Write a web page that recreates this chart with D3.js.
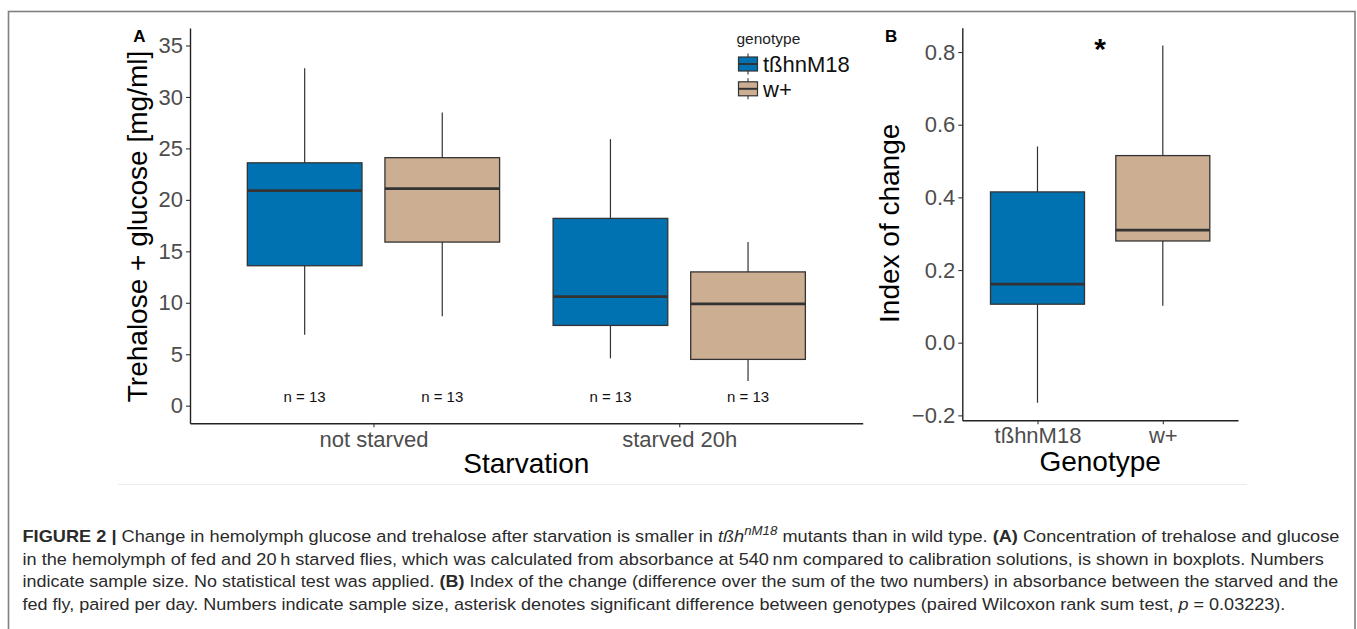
<!DOCTYPE html>
<html><head><meta charset="utf-8">
<script src="https://cdn.jsdelivr.net/npm/d3@7"></script>
<style>
html,body{margin:0;padding:0;background:#fff;}
svg{display:block;font-family:"Liberation Sans",Arial,Helvetica,sans-serif;}
</style></head><body>
<svg id="chart" width="1357" height="629"></svg>
<script>
// ---------- data ----------
const starvation = ["not starved", "starved 20h"];
const genotypes = ["tßhnM18", "w+"];
// five-number summaries: [lower whisker, Q1, median, Q3, upper whisker]
const concTbh   = [[6.9, 13.6, 20.9, 23.6, 32.8], [4.6, 7.8, 10.6, 18.2, 25.9]];
const concWplus = [[8.7, 15.9, 21.1, 24.1, 28.5], [2.4, 4.5, 9.9, 13.0, 15.9]];
const nTbh   = [13, 13];
const nWplus = [13, 13];
const indexTbh   = [-0.165, 0.106, 0.161, 0.415, 0.540];
const indexWplus = [0.102, 0.280, 0.310, 0.515, 0.818];
const ticksA = [0, 5, 10, 15, 20, 25, 30, 35];
const ticksB = [-0.2, 0.0, 0.2, 0.4, 0.6, 0.8];
const colors = ["#0072B2", "#CCAE93"];

// ---------- setup ----------
const svg = d3.select("#chart");
const tickColor = "#4D4D4D";
const lineColor = "#333333";

// outer frame
svg.append("rect").attr("x", 8.5).attr("y", 11.5).attr("width", 1346.5).attr("height", 700)
  .attr("fill", "none").attr("stroke", "#808080").attr("stroke-width", 1.6);

function styleAxis(g) {
  g.selectAll(".domain").attr("stroke", "#222").attr("stroke-width", 1.4);
  g.selectAll(".tick line").attr("stroke", lineColor).attr("stroke-width", 1.1);
  g.selectAll(".tick text").attr("fill", tickColor).attr("font-size", 22)
    .attr("font-family", "Liberation Sans, Arial, sans-serif");
}

function drawBox(g, cx, w, s, y, fill) {
  g.append("line").attr("x1", cx).attr("x2", cx).attr("y1", y(s[0])).attr("y2", y(s[4]))
    .attr("stroke", lineColor).attr("stroke-width", 1.2);
  g.append("rect").attr("x", cx - w / 2).attr("width", w)
    .attr("y", y(s[3])).attr("height", y(s[1]) - y(s[3]))
    .attr("fill", fill).attr("stroke", lineColor).attr("stroke-width", 1.3);
  g.append("line").attr("x1", cx - w / 2).attr("x2", cx + w / 2).attr("y1", y(s[2])).attr("y2", y(s[2]))
    .attr("stroke", lineColor).attr("stroke-width", 2.8);
}

// ---------- panel A ----------
const xA = d3.scalePoint().domain(starvation).range([190, 862.7]).padding(0.6);
const yA = d3.scaleLinear().domain([-1.71, 36.7]).range([423.3, 28]);
const stepA = xA.step();
const gA = svg.append("g");

[concTbh, concWplus].forEach((series, gi) => {
  series.forEach((s, ci) => {
    const cx = xA(starvation[ci]) + (gi === 0 ? -1 : 1) * 0.225 * stepA;
    drawBox(gA, cx, 0.375 * stepA, s, yA, colors[gi]);
  });
});
[nTbh, nWplus].forEach((ns, gi) => {
  ns.forEach((n, ci) => {
    const cx = xA(starvation[ci]) + (gi === 0 ? -1 : 1) * 0.225 * stepA;
    gA.append("text").attr("x", cx).attr("y", yA(0.4)).attr("text-anchor", "middle")
      .attr("font-size", 15).attr("fill", "#111").text("n = " + n);
  });
});

const axYA = svg.append("g").attr("transform", "translate(190,0)")
  .call(d3.axisLeft(yA).tickValues(ticksA).tickSize(4).tickSizeOuter(0).tickPadding(3).tickFormat(d3.format("d")));
styleAxis(axYA);
const axXA = svg.append("g").attr("transform", "translate(0,423.3)")
  .call(d3.axisBottom(xA).tickSize(4).tickSizeOuter(0).tickPadding(4));
styleAxis(axXA);

svg.append("text").attr("transform", "translate(147,226.5) rotate(-90)").attr("text-anchor", "middle")
  .attr("font-size", 28).attr("fill", "#000").text("Trehalose + glucose [mg/ml]");
svg.append("text").attr("x", (190 + 862.7) / 2).attr("y", 473.3).attr("text-anchor", "middle")
  .attr("font-size", 28).attr("fill", "#000").text("Starvation");
svg.append("text").attr("x", 133.3).attr("y", 41.7).attr("font-size", 17).attr("font-weight", "bold")
  .attr("fill", "#000").text("A");

// legend
const leg = svg.append("g");
leg.append("text").attr("x", 736.5).attr("y", 43.5).attr("font-size", 15.5).attr("fill", "#222").text("genotype");
genotypes.forEach((gname, i) => {
  const cy = 64 + i * 24.8;
  leg.append("line").attr("x1", 748).attr("x2", 748).attr("y1", cy - 10.5).attr("y2", cy + 10.5)
    .attr("stroke", lineColor).attr("stroke-width", 1.1);
  leg.append("rect").attr("x", 738.5).attr("y", cy - 7).attr("width", 19).attr("height", 14)
    .attr("fill", colors[i]).attr("stroke", lineColor).attr("stroke-width", 1.2);
  leg.append("line").attr("x1", 738.5).attr("x2", 757.5).attr("y1", cy).attr("y2", cy)
    .attr("stroke", lineColor).attr("stroke-width", 2);
  leg.append("text").attr("x", 763).attr("y", cy + 7.8).attr("font-size", 22).attr("fill", "#111").text(gname);
});

// ---------- panel B ----------
const xB = d3.scalePoint().domain(genotypes).range([962.3, 1238]).padding(0.6);
const yB = d3.scaleLinear().domain([-0.2136, 0.867]).range([420.3, 27.7]);
const stepB = xB.step();
const gB = svg.append("g");
[indexTbh, indexWplus].forEach((s, gi) => {
  drawBox(gB, xB(genotypes[gi]), 0.75 * stepB, s, yB, colors[gi]);
});
const axYB = svg.append("g").attr("transform", "translate(962.3,0)")
  .call(d3.axisLeft(yB).tickValues(ticksB).tickSize(4).tickSizeOuter(0).tickPadding(3).tickFormat(d3.format(".1f")));
styleAxis(axYB);
const axXB = svg.append("g").attr("transform", "translate(0,420.3)")
  .call(d3.axisBottom(xB).tickSize(4).tickSizeOuter(0).tickPadding(3.5));
styleAxis(axXB);

svg.append("text").attr("transform", "translate(899,223.3) rotate(-90)").attr("text-anchor", "middle")
  .attr("font-size", 28).attr("fill", "#000").text("Index of change");
svg.append("text").attr("x", (962.3 + 1238) / 2).attr("y", 471).attr("text-anchor", "middle")
  .attr("font-size", 28).attr("fill", "#000").text("Genotype");
svg.append("text").attr("x", 885).attr("y", 41.7).attr("font-size", 17).attr("font-weight", "bold")
  .attr("fill", "#000").text("B");
const asteriskValue = 0.78;
svg.append("text").attr("x", (xB(genotypes[0]) + xB(genotypes[1])) / 2).attr("y", yB(asteriskValue))
  .attr("text-anchor", "middle").attr("font-size", 30).attr("font-weight", "bold").attr("fill", "#000").text("*");

// separator
svg.append("line").attr("x1", 118).attr("x2", 1247).attr("y1", 484.5).attr("y2", 484.5)
  .attr("stroke", "#ebebeb").attr("stroke-width", 1);

// ---------- caption ----------
const capLines = [
  [["FIGURE 2 |", "b"], [" Change in hemolymph glucose and trehalose after starvation is smaller in "], ["tßh", "i"], ["nM18", "sup"],
   [" mutants than in wild type. "], ["(A)", "b"], [" Concentration of trehalose and glucose"]],
  [["in the hemolymph of fed and 20\u2009h starved flies, which was calculated from absorbance at 540\u2009nm compared to calibration solutions, is shown in boxplots. Numbers"]],
  [["indicate sample size. No statistical test was applied. "], ["(B)", "b"],
   [" Index of the change (difference over the sum of the two numbers) in absorbance between the starved and the"]],
  [["fed fly, paired per day. Numbers indicate sample size, asterisk denotes significant difference between genotypes (paired Wilcoxon rank sum test, "], ["p", "i"], [" = 0.03223)."]]
];
const capBase = [542, 564.5, 587, 609.5];
const capEnd = [1340, 1325, 1339, 1286];
capLines.forEach((parts, li) => {
  const t = svg.append("text").attr("x", 0).attr("y", 0).attr("font-size", 16.5).attr("fill", "#2a2a2a")
    .attr("xml:space", "preserve").style("white-space", "pre");
  let shifted = false;
  parts.forEach(([txt, st]) => {
    const sp = t.append("tspan").text(txt);
    if (st === "b") sp.attr("font-weight", "bold");
    if (st === "i") sp.attr("font-style", "italic");
    if (st === "sup") { sp.attr("font-style", "italic").attr("font-size", 12).attr("dy", -7); shifted = true; }
    else if (shifted) { sp.attr("dy", 7); shifted = false; }
  });
  const w = t.node().getComputedTextLength();
  const k = (capEnd[li] - 22.5) / w;
  t.attr("transform", `translate(22.5,${capBase[li]}) scale(${k},1)`);
});
</script>
</body></html>
